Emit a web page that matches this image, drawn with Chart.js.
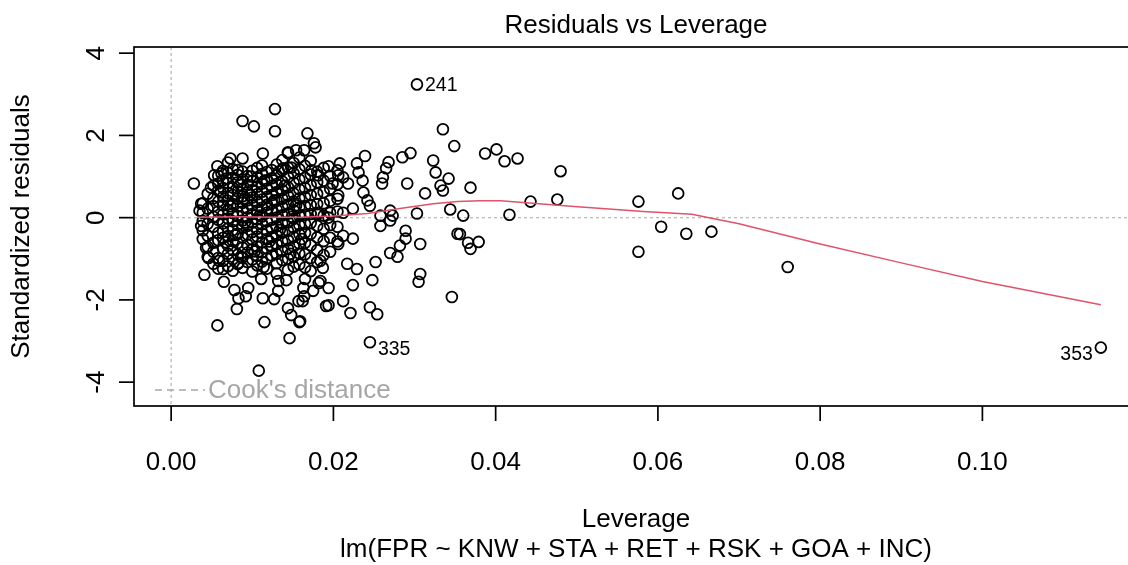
<!DOCTYPE html>
<html>
<head>
<meta charset="utf-8">
<title>Residuals vs Leverage</title>
<script src="https://cdn.jsdelivr.net/npm/chart.js@4.4.1/dist/chart.umd.min.js"></script>
<style>
  html, body { margin: 0; padding: 0; background: #fff; overflow: hidden; }
  #wrap { width: 1150px; height: 565px; }
</style>
</head>
<body>
<div id="wrap"><canvas id="levChart" width="1150" height="565"></canvas></div>
<script>
// Axis limits (R pads the range by 4%) and ticks
const xLimits = [-0.00458, 0.11918];
const yLimits = [-4.58, 4.15];
const xTicks = [0, 0.02, 0.04, 0.06, 0.08, 0.10];
const yTicks = [-4, -2, 0, 2, 4];

// Dense cluster, read column by column: [leverage, [std. residuals]]
const clusterColumns = [
  [0.0039, [0.35, 0.12, -0.08, -0.31, -0.52]],
  [0.0045, [0.58, 0.22, -0.15, -0.44, -0.71, -0.95]],
  [0.0052, [0.78, 0.47, 0.28, 0.02, -0.22, -0.61, -0.83, -1.12]],
  [0.0058, [1.02, 0.66, 0.39, 0.15, -0.05, -0.37, -0.55, -0.98, -1.24]],
  [0.0064, [1.14, 0.91, 0.72, 0.51, 0.30, 0.08, -0.14, -0.33, -0.49, -0.76, -1.05]],
  [0.0070, [1.09, 0.84, 0.60, 0.41, 0.19, -0.02, -0.26, -0.45, -0.68, -0.88, -1.18]],
  [0.0076, [1.18, 0.97, 0.73, 0.55, 0.33, 0.11, -0.09, -0.30, -0.57, -0.79, -1.01, -1.29]],
  [0.0082, [1.16, 1.04, 0.86, 0.64, 0.46, 0.27, 0.04, -0.18, -0.39, -0.62, -0.90, -1.13]],
  [0.0088, [1.12, 0.93, 0.70, 0.52, 0.36, 0.15, -0.07, -0.24, -0.48, -0.73, -0.97, -1.22]],
  [0.0094, [1.01, 0.80, 0.61, 0.42, 0.22, 0.01, -0.20, -0.41, -0.66, -0.85, -1.08]],
  [0.0100, [1.14, 0.89, 0.67, 0.49, 0.30, 0.09, -0.12, -0.35, -0.53, -0.77, -1.02, -1.31]],
  [0.0106, [1.21, 0.98, 0.75, 0.57, 0.38, 0.17, -0.04, -0.27, -0.46, -0.70, -0.93, -1.16]],
  [0.0112, [1.27, 1.06, 0.83, 0.63, 0.44, 0.24, 0.03, -0.16, -0.38, -0.60, -0.84, -1.07]],
  [0.0118, [1.11, 0.91, 0.70, 0.50, 0.31, 0.12, -0.09, -0.31, -0.52, -0.75, -0.99, -1.24]],
  [0.0124, [1.16, 0.96, 0.77, 0.55, 0.35, 0.16, -0.05, -0.25, -0.47, -0.69, -0.92]],
  [0.0130, [1.29, 1.03, 0.82, 0.62, 0.41, 0.20, 0.00, -0.21, -0.43, -0.64, -0.88, -1.11, -1.36]],
  [0.0137, [1.40, 1.15, 0.88, 0.67, 0.46, 0.26, 0.06, -0.14, -0.36, -0.58, -0.81, -1.03]],
  [0.0144, [1.57, 1.22, 0.99, 0.74, 0.53, 0.32, 0.10, -0.11, -0.32, -0.55, -0.76, -1.00, -1.27]],
  [0.0151, [1.33, 1.08, 0.85, 0.59, 0.39, 0.18, -0.03, -0.24, -0.47, -0.70, -0.95, -1.19]],
  [0.0158, [1.46, 1.18, 0.93, 0.69, 0.47, 0.25, 0.04, -0.18, -0.40, -0.63, -0.87, -1.14]],
  [0.0165, [1.26, 0.97, 0.72, 0.50, 0.28, 0.07, -0.15, -0.37, -0.61, -0.89, -1.21]],
  [0.0172, [1.38, 1.05, 0.79, 0.55, 0.31, 0.09, -0.13, -0.39, -0.67, -0.98, -1.30]],
  [0.0180, [1.12, 0.86, 0.58, 0.33, 0.08, -0.20, -0.48, -0.79, -1.08]],
  [0.0188, [1.21, 0.90, 0.62, 0.35, 0.05, -0.27, -0.57, -0.91]],
  [0.0196, [1.02, 0.70, 0.41, 0.12, -0.18, -0.49, -0.83]],
  [0.0205, [1.15, 0.81, 0.46, 0.15, -0.22, -0.58]]
];

// Extra points filling gaps inside the cluster
const clusterFill = [
  [0.0061, 0.62], [0.0067, -0.60], [0.0073, 0.28], [0.0079, -0.42], [0.0085, 0.80],
  [0.0091, -0.12], [0.0097, 0.55], [0.0103, -0.82], [0.0109, 0.05], [0.0115, 0.90],
  [0.0121, -0.58], [0.0127, 0.42], [0.0134, -0.30], [0.0140, 0.78], [0.0147, -0.88],
  [0.0154, 0.30], [0.0161, -0.52], [0.0068, 0.95], [0.0086, -0.95], [0.0098, 1.00],
  [0.0114, -1.20], [0.0133, 1.12], [0.0149, 0.02], [0.0119, 0.22], [0.0090, 0.45]
];

// Scattered points around the cluster: [leverage, std. residual]
const outerPoints = [
  [0.0128, 2.64], [0.0088, 2.35], [0.0102, 2.22], [0.0128, 2.10], [0.0168, 2.05],
  [0.0176, 1.81], [0.0178, 1.71], [0.0164, 1.64], [0.0028, 0.83], [0.0144, 1.59],
  [0.0154, 1.64], [0.0113, 1.56], [0.0088, 1.44], [0.0073, 1.44], [0.0057, 1.25],
  [0.0070, 1.34], [0.0053, 1.03], [0.0062, 1.08], [0.0049, 0.73], [0.0058, 0.83],
  [0.0194, 1.25], [0.0173, 1.15], [0.0181, 1.03], [0.0138, 1.20], [0.0148, 1.22],
  [0.0037, 0.34], [0.0035, 0.17],
  [0.0335, 2.15], [0.0349, 1.74], [0.0387, 1.56], [0.0401, 1.66], [0.0411, 1.37],
  [0.0427, 1.44], [0.0323, 1.39], [0.0326, 1.10], [0.0342, 0.95], [0.0332, 0.78],
  [0.0335, 0.66], [0.0313, 0.59], [0.0369, 0.73], [0.0291, 0.83], [0.0344, 0.20],
  [0.0360, 0.05], [0.0303, 0.10], [0.0285, 1.47], [0.0295, 1.57], [0.0268, 1.35],
  [0.0265, 1.20], [0.0261, 0.98], [0.0260, 0.83], [0.0239, 1.50], [0.0229, 1.32],
  [0.0231, 1.10], [0.0236, 0.90], [0.0237, 0.61], [0.0242, 0.42], [0.0245, 0.29],
  [0.0208, 1.32], [0.0206, 1.03], [0.0212, 0.98], [0.0218, 0.83], [0.0206, 0.54],
  [0.0199, 0.83], [0.0224, 0.22], [0.0212, 0.12], [0.0181, 0.12], [0.0194, 0.00],
  [0.0270, 0.17], [0.0258, 0.05],
  [0.0480, 1.13], [0.0476, 0.44], [0.0443, 0.39], [0.0417, 0.07], [0.0576, 0.39],
  [0.0576, -0.83], [0.0604, -0.22], [0.0635, -0.39], [0.0666, -0.34], [0.0625, 0.59],
  [0.0760, -1.20],
  [0.0353, -0.39], [0.0356, -0.40], [0.0366, -0.61], [0.0369, -0.76], [0.0379, -0.59],
  [0.0346, -1.93], [0.0307, -0.64], [0.0289, -0.32], [0.0289, -0.51], [0.0282, -0.68],
  [0.0279, -0.95], [0.0270, -0.86], [0.0252, -1.08], [0.0307, -1.37], [0.0305, -1.56],
  [0.0248, -1.52], [0.0224, -1.64], [0.0217, -1.12], [0.0229, -1.25], [0.0194, -1.71],
  [0.0212, -2.03], [0.0221, -2.32], [0.0194, -2.13], [0.0245, -2.18], [0.0254, -2.35],
  [0.0258, -0.20], [0.0270, -0.07], [0.0273, 0.05], [0.0224, -0.51], [0.0212, -0.44],
  [0.0206, -0.64], [0.0159, -2.52], [0.0162, -2.03], [0.0163, -1.71], [0.0175, -1.78],
  [0.0165, -1.49], [0.0184, -1.54], [0.0187, -1.22], [0.0184, -1.05],
  [0.0041, -1.39], [0.0065, -1.56], [0.0057, -2.62], [0.0115, -2.54], [0.0108, -3.72],
  [0.0081, -2.22], [0.0146, -2.93], [0.0111, -1.49], [0.0113, -1.96], [0.0127, -1.98],
  [0.0132, -1.54], [0.0142, -1.52], [0.0132, -1.78], [0.0144, -2.20], [0.0148, -2.37],
  [0.0158, -2.54], [0.0078, -1.76], [0.0083, -1.96], [0.0095, -1.71], [0.0092, -1.91],
  [0.0164, -1.91], [0.0157, -2.03], [0.0191, -2.15], [0.0182, -1.59], [0.0037, -0.20],
  [0.0043, -0.73], [0.0046, -0.98], [0.0059, -1.05], [0.0064, -1.25], [0.0083, -1.10]
];

// Labelled observations
const idLabels = ["241", "335", "353"];
const idLeverage = [0.0303, 0.0245, 0.1146];
const idResid = [3.24, -3.03, -3.16];

// Lowess smooth (red line)
const smoothLeverage = [0.0032, 0.008, 0.013, 0.0159, 0.020, 0.0242, 0.0282, 0.0323, 0.0353, 0.0381,
  0.0406, 0.0497, 0.0582, 0.0642, 0.0663, 0.070, 0.080, 0.090, 0.100, 0.1146];
const smoothResid = [0.01, 0.02, 0.01, 0.01, 0.04, 0.10, 0.22, 0.34, 0.39, 0.41,
  0.41, 0.27, 0.15, 0.08, 0.0, -0.15, -0.64, -1.10, -1.55, -2.12];

const FONT = '"Liberation Sans", Arial, Helvetica, sans-serif';

// build the scatter data
const scatterData = [];
clusterColumns.forEach(([lev, rs]) => rs.forEach(r => scatterData.push({ x: lev, y: r })));
clusterFill.forEach(([lev, r]) => scatterData.push({ x: lev, y: r }));
outerPoints.forEach(([lev, r]) => scatterData.push({ x: lev, y: r }));
idLeverage.forEach((lev, i) => scatterData.push({ x: lev, y: idResid[i] }));

const smoothData = smoothLeverage.map((v, i) => ({ x: v, y: smoothResid[i] }));

function hline(ctx, x1, y1, x2, y2) {
  ctx.beginPath();
  ctx.moveTo(x1, y1);
  ctx.lineTo(x2, y2);
  ctx.stroke();
}

// R-style frame, axes, titles, reference lines
const rStyle = {
  id: "rStyle",
  beforeDatasetsDraw(chart) {
    const { ctx, chartArea: a, scales: { x, y } } = chart;
    ctx.save();
    ctx.strokeStyle = "#bebebe";
    ctx.lineWidth = 1.4;
    ctx.setLineDash([3, 3]);
    const y0 = y.getPixelForValue(0);
    const x0 = x.getPixelForValue(0);
    hline(ctx, a.left, y0, a.right, y0);
    hline(ctx, x0, a.top, x0, a.bottom);
    ctx.restore();
  },
  afterDraw(chart) {
    const { ctx, chartArea: a, scales: { x, y } } = chart;
    const cx = (a.left + a.right) / 2;
    const cy = (a.top + a.bottom) / 2;
    ctx.save();
    ctx.strokeStyle = "#000";
    ctx.lineWidth = 1.7;
    ctx.strokeRect(a.left, a.top, a.right - a.left, a.bottom - a.top);

    ctx.fillStyle = "#000";
    ctx.font = "26px " + FONT;
    ctx.textAlign = "center";
    ctx.textBaseline = "middle";

    xTicks.forEach(v => {
      const px = x.getPixelForValue(v);
      hline(ctx, px, a.bottom, px, a.bottom + 15);
      ctx.fillText(v.toFixed(2), px, a.bottom + 57);
    });
    yTicks.forEach(v => {
      const py = y.getPixelForValue(v);
      hline(ctx, a.left, py, a.left - 15, py);
      ctx.save();
      ctx.translate(a.left - 37, py);
      ctx.rotate(-Math.PI / 2);
      ctx.fillText(String(v), 0, 0);
      ctx.restore();
    });

    // titles
    ctx.fillText("Residuals vs Leverage", cx, 26);
    ctx.fillText("Leverage", cx, 520);
    ctx.fillText("lm(FPR ~ KNW + STA + RET + RSK + GOA + INC)", cx, 550);
    ctx.save();
    ctx.translate(22, cy);
    ctx.rotate(-Math.PI / 2);
    ctx.fillText("Standardized residuals", 0, 0);
    ctx.restore();

    // labels of the extreme points
    ctx.font = "19.5px " + FONT;
    idLabels.forEach((lab, i) => {
      const px = x.getPixelForValue(idLeverage[i]);
      const py = y.getPixelForValue(idResid[i]) + (idResid[i] < 0 ? 7 : 1);
      const right = idLeverage[i] > (xLimits[0] + xLimits[1]) / 2;
      ctx.textAlign = right ? "right" : "left";
      ctx.fillText(lab, right ? px - 8 : px + 8, py);
    });

    // Cook's distance legend
    ctx.strokeStyle = "#a8a8a8";
    ctx.lineWidth = 1.4;
    ctx.setLineDash([7, 5]);
    hline(ctx, a.left + 21, a.bottom - 16, a.left + 71, a.bottom - 16);
    ctx.setLineDash([]);
    ctx.fillStyle = "#a6a6a6";
    ctx.font = "26px " + FONT;
    ctx.textAlign = "left";
    ctx.fillText("Cook's distance", a.left + 74, a.bottom - 15);
    ctx.restore();
  }
};

new Chart(document.getElementById("levChart").getContext("2d"), {
  type: "scatter",
  data: {
    datasets: [
      {
        label: "smooth",
        data: smoothData,
        showLine: true,
        borderColor: "#DF536B",
        borderWidth: 1.5,
        pointRadius: 0,
        tension: 0,
        fill: false,
      },
      {
        label: "residuals",
        data: scatterData,
        pointStyle: "circle",
        pointRadius: 5.4,
        pointBorderWidth: 1.8,
        pointBorderColor: "#000",
        pointBackgroundColor: "rgba(0,0,0,0)",
      },
    ],
  },
  options: {
    responsive: false,
    animation: false,
    events: [],
    layout: { padding: { left: 134, right: 12, top: 47, bottom: 159 } },
    plugins: {
      legend: { display: false },
      tooltip: { enabled: false },
      title: { display: false },
    },
    scales: {
      x: { type: "linear", min: xLimits[0], max: xLimits[1], display: false },
      y: { type: "linear", min: yLimits[0], max: yLimits[1], display: false },
    },
  },
  plugins: [rStyle],
});
</script>
</body>
</html>
